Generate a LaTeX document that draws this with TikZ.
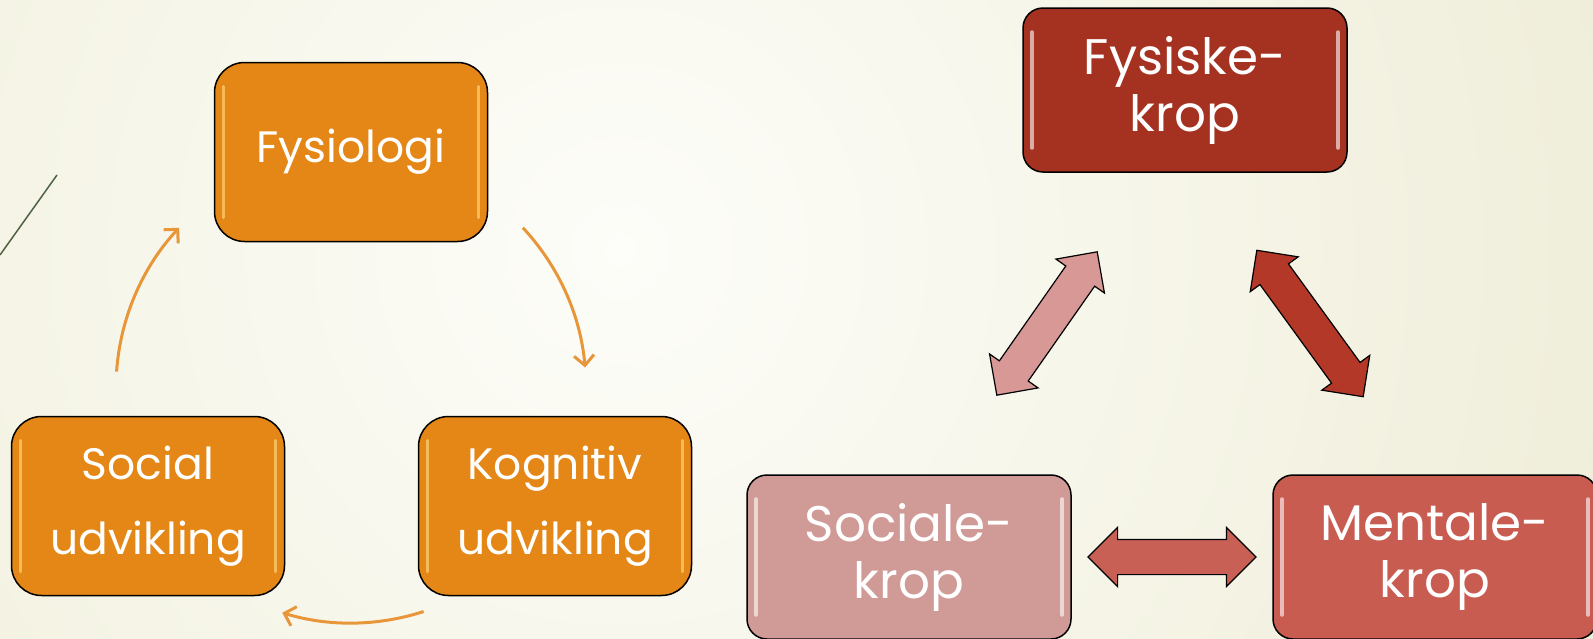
\documentclass[tikz,border=0pt]{standalone}
\usepackage{fontspec}
\setmainfont{Poppins}
\usetikzlibrary{positioning}
\usetikzlibrary{calc, shapes.arrows, arrows.meta}

\definecolor{bgout}{RGB}{233,231,203}
\definecolor{bgin}{RGB}{253,253,249}
\definecolor{boxorange}{RGB}{228,135,22}
\definecolor{glossorange}{RGB}{255,222,130}
\definecolor{ringorange}{RGB}{232,150,58}
\definecolor{fysred}{RGB}{165,50,32}
\definecolor{menred}{RGB}{200,92,80}
\definecolor{socred}{RGB}{208,155,151}
\definecolor{arrowpink}{RGB}{216,152,150}
\definecolor{arrowdark}{RGB}{180,56,40}
\definecolor{arrowmid}{RGB}{201,96,86}
\definecolor{leafgreen}{RGB}{78,98,68}

\begin{document}
\begin{tikzpicture}[x=1pt,y=-1pt,
  gloss/.style={path picture={
    \draw[#1,opacity=0.6,line width=3.5pt,line cap=round] ([xshift=9pt,yshift=-24pt]path picture bounding box.north west) -- ([xshift=9pt,yshift=24pt]path picture bounding box.south west);
    \draw[#1,opacity=0.6,line width=3.5pt,line cap=round] ([xshift=-9pt,yshift=-24pt]path picture bounding box.north east) -- ([xshift=-9pt,yshift=24pt]path picture bounding box.south east);}},
  stagebox/.style={rectangle, rounded corners=30pt, draw=black, line width=1.5pt, fill=boxorange, text=white,
    minimum width=273pt, minimum height=179pt, align=center, font=\fontsize{44}{75}\selectfont, gloss=glossorange},
  kropbox/.style={rectangle, rounded corners=20pt, draw=black, line width=1.5pt, text=white,
    minimum width=324pt, minimum height=164pt, align=center, font=\fontsize{50}{57}\selectfont, gloss=white},
  cyc/.style={ringorange, line width=3pt, -{Straight Barb[length=10pt,width=20pt]}},
  bigarrow/.style={double arrow, draw=black, line width=1.2pt, inner xsep=0pt, inner ysep=17pt,
    text height=0pt, text depth=0pt, double arrow head extend=12pt, double arrow head indent=0pt}
]
\useasboundingbox (0,0) rectangle (1593,638);

% background
\fill[bgout] (0,0) rectangle (1593,638);
\shade[inner color=bgin, outer color=bgout] (620,250) circle (1500);
\draw[leafgreen, line width=1.5pt] (0,255) -- (57,175);

% left cycle
\node[stagebox] (fys) at (351,152) {Fysiologi};
\node[stagebox] (kog) at (555,506) {Kognitiv\\udvikling};
\node[stagebox] (soc) at (148,506) {Social\\udvikling};

\coordinate (ring) at (351,388);
\draw[cyc] ([shift={(-43:235)}]ring) arc[start angle=-43, end angle=-5, radius=235];
\draw[cyc] ([shift={(72:235)}]ring) arc[start angle=72, end angle=107, radius=235];
\draw[cyc] ([shift={(184:235)}]ring) arc[start angle=184, end angle=223, radius=235];

% right triangle
\node[kropbox, fill=fysred] (fk) at (1185,90) {Fysiske-\\krop};
\node[kropbox, fill=menred] (mk) at (1435,557) {Mentale-\\krop};
\node[kropbox, fill=socred] (sk) at (909,557) {Sociale-\\krop};

\node[bigarrow, fill=arrowpink, minimum height=175pt, rotate=55] (a1) at ($(sk)!0.5!(fk)$) {};
\node[bigarrow, fill=arrowdark, minimum height=181pt, rotate=-54] (a2) at ($(mk)!0.5!(fk)$) {};
\node[bigarrow, fill=arrowmid, minimum height=168pt] (a3) at ($(sk)!0.5!(mk)$) {};

\end{tikzpicture}
\end{document}
